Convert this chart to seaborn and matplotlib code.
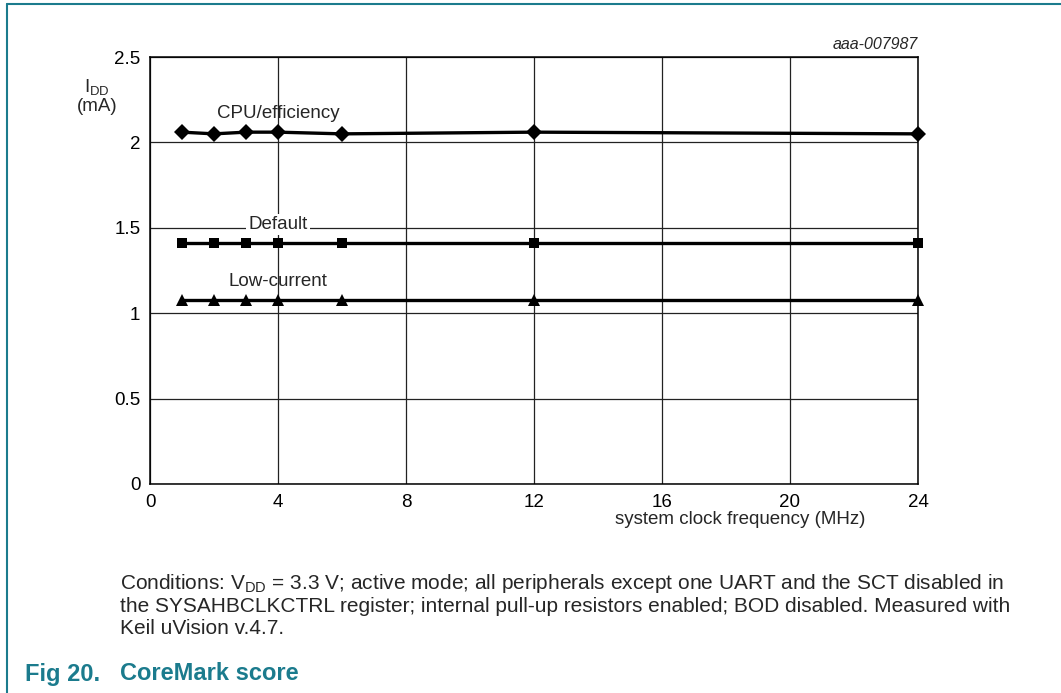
import pandas as pd
import seaborn as sns
import matplotlib.pyplot as plt
from matplotlib.lines import Line2D

# clock frequencies (MHz) and supply current (mA) per power profile
freq = [1, 2, 3, 4, 6, 12, 24]
cpu_eff = [2.06, 2.05, 2.06, 2.06, 2.05, 2.06, 2.05]
default = [1.41, 1.41, 1.41, 1.41, 1.41, 1.41, 1.41]
low_current = [1.08, 1.08, 1.08, 1.08, 1.08, 1.08, 1.08]

x_ticks = [0, 4, 8, 12, 16, 20, 24]
y_ticks = [0, 0.5, 1, 1.5, 2, 2.5]
y_tick_labels = ['0', '0.5', '1', '1.5', '2', '2.5']

teal = '#1b7b8d'

sns.set_style('white')
plt.rcParams['font.family'] = ['Liberation Sans', 'DejaVu Sans']

df = pd.DataFrame({'freq': freq * 3,
                   'idd': cpu_eff + default + low_current,
                   'mode': ['CPU/efficiency'] * 7 + ['Default'] * 7 + ['Low-current'] * 7})

fig = plt.figure(figsize=(10.61, 6.93), dpi=100)
ax = fig.add_axes([150 / 1061, 209 / 693, 768 / 1061, 427 / 693])

markers = {'CPU/efficiency': ('D', 8), 'Default': ('s', 7.5), 'Low-current': ('^', 8)}
for mode, (m, ms) in markers.items():
    sub = df[df['mode'] == mode]
    sns.lineplot(data=sub, x='freq', y='idd', ax=ax, color='black', lw=2.4,
                 marker=m, markersize=ms, markeredgewidth=0, clip_on=False, zorder=3)

ax.set_xlim(0, 24)
ax.set_ylim(0, 2.5)
ax.set_xticks(x_ticks)
ax.set_yticks(y_ticks)
ax.set_yticklabels(y_tick_labels)
ax.grid(True, color='#222222', lw=0.9)
ax.tick_params(length=0, labelsize=13.5, colors='black')
ax.tick_params(axis='y', pad=7)
ax.tick_params(axis='x', pad=7)
for s in ax.spines.values():
    s.set_color('black')
    s.set_linewidth(1.1)
ax.set_xlabel('')
ax.set_ylabel('')

ax.text(4, 2.17, 'CPU/efficiency', ha='center', va='center', fontsize=13.5)
ax.text(4, 1.52, 'Default', ha='center', va='center', fontsize=13.5,
        bbox=dict(facecolor='white', edgecolor='none', pad=1.5))
ax.text(4, 1.185, 'Low-current', ha='center', va='center', fontsize=13.5)
ax.text(24, 2.575, 'aaa-007987', ha='right', va='center', fontsize=11.5, style='italic')

fig.text(97 / 1061, 1 - 96 / 693, 'I$_{\\mathregular{DD}}$\n(mA)', ha='center', va='center',
         fontsize=13.5, linespacing=1.0)
fig.text(740 / 1061, 1 - 520 / 693, 'system clock frequency (MHz)', ha='center', va='center',
         fontsize=13.5)

cond = ('Conditions: V$_{\\mathregular{DD}}$ = 3.3 V; active mode; all peripherals except one UART and the SCT disabled in\n'
        'the SYSAHBCLKCTRL register; internal pull-up resistors enabled; BOD disabled. Measured with\n'
        'Keil uVision v.4.7.')
fig.text(120 / 1061, 1 - 605 / 693, cond, ha='left', va='center', fontsize=15, linespacing=1.17)
fig.text(25 / 1061, 1 - 674 / 693, 'Fig 20.', ha='left', va='center',
         fontsize=17, fontweight='bold', color=teal)
fig.text(120 / 1061, 1 - 674 / 693, 'CoreMark score', ha='left', va='center',
         fontsize=17, fontweight='bold', color=teal)

# frame lines
fig.add_artist(Line2D([7 / 1061, 1], [1 - 4 / 693, 1 - 4 / 693], color=teal, lw=1.5))
fig.add_artist(Line2D([7 / 1061, 7 / 1061], [0, 1 - 4 / 693], color=teal, lw=1.5))

fig.savefig('out.png', dpi=100)
